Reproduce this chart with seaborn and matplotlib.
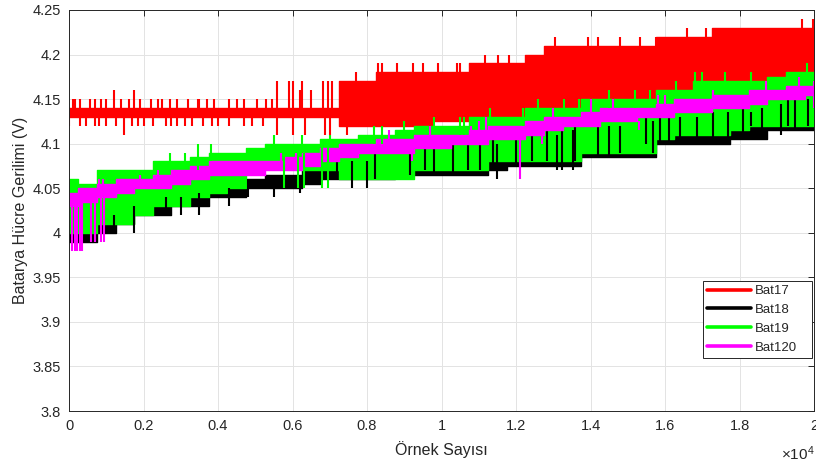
import numpy as np
import matplotlib
matplotlib.use("Agg")
import matplotlib.pyplot as plt
import seaborn as sns
from matplotlib.lines import Line2D

# ---------------- data ----------------
sample_knots = list(range(0, 20001, 500))          # sample index of each knot

bat17_lo = [4.13]*15 + [4.12]*5 + [4.125]*2 + [4.13]*3 + [4.14]*3 + [4.15]*4 + [4.16]*4 + [4.17]*5
bat17_hi = [4.14]*15 + [4.17]*2 + [4.18]*5 + [4.19]*3 + [4.20] + [4.21]*6 + [4.22]*3 + [4.23]*6

bat18_lo = [3.99, 3.99, 4.00, 4.01, 4.02, 4.02, 4.03, 4.03, 4.04, 4.04, 4.05, 4.05, 4.05, 4.055,
            4.06, 4.06, 4.06, 4.06, 4.065, 4.065, 4.065, 4.065, 4.065, 4.07, 4.075, 4.075, 4.075,
            4.075, 4.085, 4.085, 4.085, 4.085, 4.10, 4.10, 4.10, 4.10, 4.105, 4.105, 4.115, 4.115, 4.115]
bat18_hi = [4.00, 4.01, 4.02, 4.03, 4.04, 4.04, 4.05, 4.05, 4.055, 4.06, 4.06, 4.065, 4.065, 4.07,
            4.07, 4.075, 4.08, 4.08, 4.085, 4.09, 4.09, 4.095, 4.10, 4.10, 4.105, 4.11, 4.11, 4.115,
            4.12, 4.12, 4.12, 4.125, 4.13, 4.13, 4.13, 4.135, 4.14, 4.14, 4.145, 4.15, 4.15]

bat19_lo = [4.00, 4.00, 4.01, 4.01, 4.02, 4.03, 4.03, 4.04, 4.045, 4.05, 4.075, 4.075, 4.075, 4.07,
            4.07, 4.06, 4.06, 4.06, 4.06, 4.07, 4.07, 4.07, 4.07, 4.08, 4.08, 4.08, 4.08, 4.08,
            4.09, 4.09, 4.09, 4.09, 4.105, 4.11, 4.11, 4.11, 4.115, 4.12, 4.12, 4.12, 4.12]
bat19_hi = [4.06, 4.055, 4.07, 4.07, 4.07, 4.08, 4.08, 4.085, 4.09, 4.09, 4.095, 4.10, 4.10, 4.10,
            4.105, 4.105, 4.11, 4.11, 4.115, 4.12, 4.12, 4.12, 4.13, 4.13, 4.13, 4.14, 4.14, 4.14,
            4.15, 4.15, 4.15, 4.15, 4.16, 4.16, 4.17, 4.17, 4.17, 4.17, 4.175, 4.18, 4.18]

bat120_lo = [4.03, 4.035, 4.04, 4.045, 4.05, 4.05, 4.055, 4.06, 4.065, 4.065, 4.065, 4.07, 4.07,
             4.075, 4.08, 4.085, 4.09, 4.09, 4.09, 4.095, 4.095, 4.10, 4.10, 4.105, 4.105, 4.11,
             4.115, 4.12, 4.12, 4.125, 4.125, 4.13, 4.13, 4.135, 4.135, 4.14, 4.14, 4.145, 4.15,
             4.15, 4.155]
bat120_hi = [4.045, 4.05, 4.055, 4.06, 4.06, 4.065, 4.07, 4.075, 4.08, 4.08, 4.08, 4.08, 4.085,
             4.09, 4.095, 4.10, 4.10, 4.105, 4.105, 4.11, 4.11, 4.11, 4.115, 4.12, 4.12, 4.125,
             4.13, 4.13, 4.135, 4.14, 4.14, 4.14, 4.145, 4.15, 4.15, 4.155, 4.155, 4.16, 4.16,
             4.165, 4.165]

# spikes: sample index, lower value, upper value
bat17_spk_x = [100, 300, 550, 700, 1000, 1200, 1400, 1600, 1750, 1900, 2200, 2500, 2700, 2900,
               3200, 3500, 3700, 3900, 4300, 4700, 5050, 5300, 5580, 5900, 6000, 6200, 6250, 6500,
               6820, 6950, 7050, 8300, 8400, 9240, 9500, 10420, 10500, 11170, 11520, 12300, 12450,
               13050, 13930, 14790, 15330, 15750, 15950, 16200, 19680, 19970,
               0, 300, 450, 700, 1000, 1250, 1480, 1700, 2000, 2250, 2600, 2900, 3100, 3300, 3600,
               4000, 4300, 4700, 5200, 5580, 6010, 6340, 6870, 7000, 7460,
               7700, 8800, 9900, 11800, 12800, 14200, 16600, 17100, 150, 850, 2400, 3450, 4500,
               5450, 800, 1850, 2750, 3850, 4900]
bat17_spk_lo = [4.13]*31 + [4.17]*2 + [4.18]*4 + [4.19]*4 + [4.21]*7 + [4.23]*2 + \
               [4.12]*6 + [4.11] + [4.12]*12 + [4.11]*6 + \
               [4.17, 4.18, 4.18, 4.19, 4.20, 4.21, 4.22, 4.22] + [4.13]*6 + [4.12]*5
bat17_spk_hi = [4.15]*5 + [4.16] + [4.15]*2 + [4.16] + [4.15]*13 + [4.17]*3 + [4.16] + [4.17] + \
               [4.16] + [4.17]*3 + [4.19]*2 + [4.19]*4 + [4.20]*4 + [4.22]*7 + [4.24]*2 + \
               [4.13]*25 + [4.18, 4.19, 4.19, 4.20, 4.21, 4.22, 4.23, 4.23] + [4.15]*6 + [4.13]*5

bat18_spk_x = [1200, 1750, 2600, 3000, 3500, 4300, 4800, 5500, 6200, 7190, 7600, 8000, 8210, 9150,
               9560, 10710, 11030, 11380, 11490, 12430, 12830, 13100, 13230, 13530, 13580, 14790,
               15500, 15680, 15870, 16400, 16860, 18090, 18300, 19100, 19300, 19840,
               9800, 10300, 12000, 14200, 14500, 16100, 17300, 17700, 18600, 19500]
bat18_spk_lo = [4.00, 4.00, 4.02, 4.02, 4.02, 4.03, 4.04, 4.04, 4.045, 4.06, 4.05, 4.05, 4.06, 4.065,
                4.07, 4.07, 4.07, 4.07, 4.06, 4.08, 4.08, 4.07, 4.07, 4.07, 4.08, 4.09, 4.10, 4.09,
                4.10, 4.10, 4.10, 4.11, 4.12, 4.11, 4.12, 4.12,
                4.065, 4.065, 4.075, 4.085, 4.085, 4.10, 4.10, 4.10, 4.105, 4.115]
bat18_spk_hi = [4.02, 4.03, 4.04, 4.04, 4.045, 4.05, 4.06, 4.06, 4.065, 4.09, 4.08, 4.08, 4.09, 4.09,
                4.10, 4.10, 4.11, 4.11, 4.10, 4.11, 4.115, 4.11, 4.115, 4.115, 4.12, 4.12, 4.13,
                4.125, 4.13, 4.13, 4.13, 4.14, 4.135, 4.145, 4.15, 4.15,
                4.095, 4.10, 4.105, 4.12, 4.12, 4.13, 4.135, 4.135, 4.14, 4.15]

bat19_spk_x = [2700, 3100, 3470, 3820, 5500, 5780, 6150, 6250, 6300, 6800, 6950, 7000, 8200, 8400,
               10500, 10600, 12200, 12600, 14500, 15200, 16800, 17000, 18300, 19400,
               9000, 9800, 11300, 13300, 13700, 15600, 16300, 17600, 19800]
bat19_spk_lo = [4.08, 4.08, 4.07, 4.08, 4.09, 4.05, 4.05, 4.09, 4.05, 4.05, 4.05, 4.10, 4.10, 4.10,
                4.11, 4.11, 4.12, 4.13, 4.14, 4.14, 4.16, 4.16, 4.17, 4.17,
                4.11, 4.115, 4.125, 4.135, 4.135, 4.145, 4.155, 4.165, 4.175]
bat19_spk_hi = [4.09, 4.09, 4.10, 4.10, 4.11, 4.09, 4.09, 4.11, 4.09, 4.10, 4.10, 4.11, 4.12, 4.12,
                4.13, 4.13, 4.14, 4.15, 4.16, 4.16, 4.18, 4.18, 4.18, 4.18,
                4.125, 4.13, 4.14, 4.15, 4.15, 4.16, 4.17, 4.18, 4.19]

bat120_spk_x = [80, 150, 220, 290, 360, 600, 700, 850, 950, 800, 900, 1900, 2400, 5700, 6100, 6900,
                10800, 11000, 12100, 14000, 16000, 20000,
                8600, 9700, 11200, 13000, 14600, 15800, 17300, 18700, 19600, 9200, 12700, 15300]
bat120_spk_lo = [3.98, 3.98, 3.98, 3.98, 3.98, 3.99, 3.99, 3.99, 3.99, 4.045, 4.045, 4.05, 4.06,
                 4.07, 4.07, 4.08, 4.10, 4.10, 4.06, 4.12, 4.13, 4.14,
                 4.10, 4.105, 4.115, 4.125, 4.135, 4.14, 4.15, 4.155, 4.16, 4.08, 4.10, 4.115]
bat120_spk_hi = [4.04, 4.04, 4.04, 4.04, 4.04, 4.045, 4.045, 4.05, 4.05, 4.06, 4.06, 4.065, 4.07,
                 4.09, 4.09, 4.09, 4.12, 4.125, 4.12, 4.15, 4.155, 4.17,
                 4.115, 4.12, 4.13, 4.14, 4.15, 4.155, 4.16, 4.17, 4.175, 4.09, 4.11, 4.125]

series_names = ["Bat17", "Bat18", "Bat19", "Bat120"]
series_colors = ["#ff0000", "#000000", "#00ff00", "#ff00ff"]

x_ticks = [0, 2000, 4000, 6000, 8000, 10000, 12000, 14000, 16000, 18000, 20000]
x_tick_labels = ["0", "0.2", "0.4", "0.6", "0.8", "1", "1.2", "1.4", "1.6", "1.8", "2"]
y_ticks = [3.8, 3.85, 3.9, 3.95, 4.0, 4.05, 4.1, 4.15, 4.2, 4.25]
y_tick_labels = ["3.8", "3.85", "3.9", "3.95", "4", "4.05", "4.1", "4.15", "4.2", "4.25"]

# ---------------- drawing ----------------
sns.set_theme(style="whitegrid")
plt.rcParams['font.family'] = ['Liberation Sans', 'DejaVu Sans']
plt.rcParams['mathtext.fontset'] = 'custom'
plt.rcParams['mathtext.rm'] = 'Liberation Sans'
ink = "#262626"

fig = plt.figure(figsize=(8.16, 4.65), dpi=100)
fig.patch.set_facecolor("white")
ax = fig.add_axes([0.0846, 0.1161, 0.9130, 0.8624])
ax.set_facecolor("white")

bands = [(bat17_lo, bat17_hi), (bat18_lo, bat18_hi), (bat19_lo, bat19_hi), (bat120_lo, bat120_hi)]
for i, ((lo, hi), col) in enumerate(zip(bands, series_colors)):
    z = 2 + i
    ax.fill_between(sample_knots, lo, hi, step="mid", color=col, lw=0.5, zorder=z)
    sns.lineplot(x=sample_knots, y=hi, drawstyle="steps-mid", color=col, lw=1.0,
                 ax=ax, zorder=z, legend=False)
    sns.lineplot(x=sample_knots, y=lo, drawstyle="steps-mid", color=col, lw=1.0,
                 ax=ax, zorder=z, legend=False)

spikes = [(bat17_spk_x, bat17_spk_lo, bat17_spk_hi, 2.5),
          (bat18_spk_x, bat18_spk_lo, bat18_spk_hi, 4.5),
          (bat19_spk_x, bat19_spk_lo, bat19_spk_hi, 5.5),
          (bat120_spk_x, bat120_spk_lo, bat120_spk_hi, 6.0)]
for (sx, slo, shi, z), col in zip(spikes, series_colors):
    ax.vlines(sx, slo, shi, colors=col, lw=1.5, zorder=z)

ax.set_xlim(0, 20000)
ax.set_ylim(3.8, 4.25)
ax.set_xticks(x_ticks)
ax.set_xticklabels(x_tick_labels)
ax.set_yticks(y_ticks)
ax.set_yticklabels(y_tick_labels)
ax.grid(True, color="#e3e3e3", lw=0.7)
ax.tick_params(direction="in", top=True, right=True, length=4, width=0.7,
               color=ink, labelcolor=ink, labelsize=10.5, pad=6)
for sp in ax.spines.values():
    sp.set_color(ink)
    sp.set_linewidth(0.7)
    sp.set_zorder(10)

ax.set_xlabel("Örnek Sayısı", fontsize=11.5, color=ink, labelpad=5.5)
ax.set_ylabel("Batarya Hücre Gerilimi (V)", fontsize=11.5, color=ink, labelpad=3)
ax.text(1.0, -0.122, r"$\times\mathregular{10^{4}}$", transform=ax.transAxes,
        ha="right", va="baseline", fontsize=11, color=ink)

handles = [Line2D([0], [0], color=c, lw=2.6) for c in series_colors]
leg = ax.legend(handles, series_names, loc="lower left",
                bbox_to_anchor=(0.851, 0.132, 0.1463, 0.185), mode="expand",
                fontsize=9.5, frameon=True, fancybox=False, framealpha=1, edgecolor=ink,
                handlelength=3.3, handletextpad=0.3, borderpad=0.33, labelspacing=0.5,
                borderaxespad=0)
leg.get_frame().set_linewidth(0.7)
leg.set_zorder(20)

fig.savefig("out.png", dpi=100)
